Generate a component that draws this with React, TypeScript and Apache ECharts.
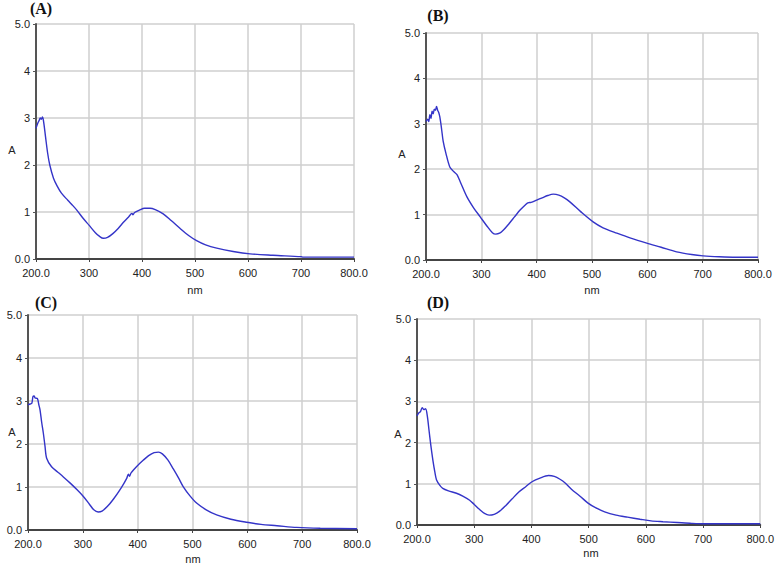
import React, { useEffect, useRef } from "react";
import * as echarts from "echarts";

const xTicks = [200, 300, 400, 500, 600, 700, 800];
const xTickLabels = ["200.0", "300", "400", "500", "600", "700", "800.0"];
const yTicks = [0, 1, 2, 3, 4, 5];
const yTickLabels = ["0.0", "1", "2", "3", "4", "5.0"];
const panelLabels = ["(A)", "(B)", "(C)", "(D)"];
const yAxisTitle = "A";
const xAxisTitle = "nm";

const aNm = [200, 203, 206, 208, 210, 212, 214, 218, 222, 226, 233, 240, 248, 260, 270, 277, 290, 300, 312, 320, 327, 335, 345, 355, 365, 375, 381, 383, 386, 395, 405, 415, 425, 440, 455, 472, 488, 503, 520, 541, 572, 604, 647, 700, 704, 750, 800];
const aAbs = [2.78, 2.88, 2.95, 3.0, 2.97, 3.02, 2.95, 2.6, 2.25, 2.0, 1.72, 1.55, 1.4, 1.25, 1.13, 1.04, 0.85, 0.72, 0.56, 0.48, 0.44, 0.46, 0.54, 0.65, 0.78, 0.9, 0.97, 0.94, 0.99, 1.04, 1.08, 1.08, 1.05, 0.96, 0.82, 0.65, 0.5, 0.39, 0.3, 0.23, 0.16, 0.11, 0.08, 0.05, 0.04, 0.04, 0.04];

const bNm = [200, 203, 205, 207, 209, 211, 213, 215, 217, 219, 221, 223, 225, 228, 231, 236, 243, 250, 256, 262, 274, 286, 298, 310, 320, 326, 333, 340, 350, 360, 370, 380, 384, 390, 400, 410, 420, 430, 440, 450, 460, 480, 502, 520, 545, 570, 599, 625, 653, 680, 701, 730, 760, 800];
const bAbs = [3.05, 3.1, 3.05, 3.2, 3.12, 3.28, 3.22, 3.32, 3.3, 3.38, 3.3, 3.25, 3.15, 2.9, 2.62, 2.35, 2.05, 1.95, 1.88, 1.72, 1.39, 1.15, 0.95, 0.75, 0.6, 0.57, 0.59, 0.66, 0.8, 0.95, 1.1, 1.22, 1.26, 1.27, 1.32, 1.37, 1.42, 1.45, 1.43, 1.37, 1.28, 1.06, 0.84, 0.71, 0.59, 0.48, 0.37, 0.28, 0.18, 0.12, 0.09, 0.07, 0.06, 0.06];

const cNm = [200, 204, 207, 209, 211, 213, 217, 220, 222, 225, 228, 231, 234, 243, 254, 264, 277, 290, 301, 312, 320, 328, 335, 345, 356, 370, 380, 383, 385, 388, 400, 410, 420, 430, 438, 445, 455, 465, 475, 483, 495, 508, 525, 544, 570, 599, 625, 654, 690, 733, 800];
const cAbs = [2.91, 2.93, 2.95, 3.1, 3.12, 3.07, 3.06, 2.9, 2.79, 2.5, 2.25, 1.95, 1.67, 1.47, 1.35, 1.24, 1.09, 0.93, 0.78, 0.6, 0.47, 0.42, 0.44, 0.55, 0.72, 0.98, 1.2, 1.3, 1.25, 1.33, 1.5, 1.62, 1.73, 1.8, 1.81, 1.77, 1.63, 1.42, 1.2, 1.01, 0.8, 0.62, 0.47, 0.35, 0.25, 0.18, 0.13, 0.1, 0.06, 0.04, 0.03];

const dNm = [200, 203, 206, 209, 212, 215, 218, 221, 224, 228, 231, 234, 240, 245, 255, 269, 280, 292, 300, 309, 318, 326, 335, 344, 355, 366, 378, 390, 401, 415, 430, 440, 450, 459, 470, 485, 499, 512, 528, 548, 568, 590, 609, 630, 655, 680, 701, 750, 800];
const dAbs = [2.65, 2.72, 2.75, 2.85, 2.8, 2.82, 2.65, 2.3, 1.95, 1.55, 1.3, 1.1, 0.96, 0.89, 0.83, 0.77, 0.7, 0.6, 0.5, 0.38, 0.28, 0.24, 0.26, 0.33, 0.47, 0.63, 0.8, 0.93, 1.05, 1.14, 1.2, 1.18, 1.11, 1.02, 0.87, 0.7, 0.53, 0.42, 0.32, 0.24, 0.19, 0.14, 0.1, 0.08, 0.06, 0.04, 0.03, 0.03, 0.03];

const panels = [
  { nm: aNm, abs: aAbs, left: 36, top: 24, width: 318, height: 235, lab: [41, 8], yt: [12, 150], nmPos: [195, 290] },
  { nm: bNm, abs: bAbs, left: 426, top: 33, width: 332, height: 227, lab: [438, 15], yt: [402, 154], nmPos: [592, 290] },
  { nm: cNm, abs: cAbs, left: 28, top: 315, width: 329, height: 215, lab: [46, 302], yt: [12, 432], nmPos: [193, 559] },
  { nm: dNm, abs: dAbs, left: 417, top: 319, width: 347, height: 206, lab: [438, 302], yt: [398, 434], nmPos: [591, 553] },
];

export default function App() {
  const ref = useRef<HTMLDivElement>(null);
  useEffect(() => {
    if (!ref.current) return;
    const chart = echarts.init(ref.current, null, { renderer: "svg" });
    const labelFont = "'Liberation Sans', Arial, sans-serif";
    const xLabelMap: Record<number, string> = {};
    xTicks.forEach((t, i) => (xLabelMap[t] = xTickLabels[i]));
    const yLabelMap: Record<number, string> = {};
    yTicks.forEach((t, i) => (yLabelMap[t] = yTickLabels[i]));

    const grid = panels.map((p) => ({ left: p.left, top: p.top, width: p.width, height: p.height, containLabel: false }));
    const xAxis = panels.map((p, i) => ({
      type: "value",
      gridIndex: i,
      min: 200,
      max: 800,
      interval: 100,
      axisLine: { show: true, lineStyle: { color: "#444", width: 2 } },
      axisTick: { show: true, length: 3, lineStyle: { color: "#444" } },
      axisLabel: { color: "#222", fontSize: 11, fontFamily: labelFont, margin: 8, formatter: (v: number) => xLabelMap[v] ?? String(v) },
      splitLine: { show: true, lineStyle: { color: "#cfcfcf", width: 1.5 } },
    }));
    const yAxis = panels.map((p, i) => ({
      type: "value",
      gridIndex: i,
      min: 0,
      max: 5,
      interval: 1,
      axisLine: { show: true, lineStyle: { color: "#555", width: 2 } },
      axisTick: { show: true, length: 3, lineStyle: { color: "#555" } },
      axisLabel: { color: "#222", fontSize: 11, fontFamily: labelFont, margin: 6, formatter: (v: number) => yLabelMap[v] ?? String(v) },
      splitLine: { show: true, lineStyle: { color: "#cfcfcf", width: 1.5 } },
    }));
    const series = panels.map((p, i) => ({
      type: "line",
      xAxisIndex: i,
      yAxisIndex: i,
      data: p.nm.map((x, j) => [x, p.abs[j]]),
      showSymbol: false,
      smooth: 0.3,
      lineStyle: { color: "#3434c8", width: 1.4 },
    }));
    const graphic: any[] = [];
    panels.forEach((p, i) => {
      graphic.push({
        type: "text",
        x: p.lab[0],
        y: p.lab[1],
        style: { text: panelLabels[i], font: "bold 16px 'Liberation Serif', 'Times New Roman', serif", fill: "#111", textAlign: "center", textVerticalAlign: "middle" },
      });
      graphic.push({
        type: "text",
        x: p.yt[0],
        y: p.yt[1],
        style: { text: yAxisTitle, font: "11px " + labelFont, fill: "#222", textAlign: "center", textVerticalAlign: "middle" },
      });
      graphic.push({
        type: "text",
        x: p.nmPos[0],
        y: p.nmPos[1],
        style: { text: xAxisTitle, font: "11px " + labelFont, fill: "#222", textAlign: "center", textVerticalAlign: "middle" },
      });
    });
    chart.setOption({
      animation: false,
      backgroundColor: "#ffffff",
      grid,
      xAxis,
      yAxis,
      series,
      graphic,
    });
    return () => chart.dispose();
  }, []);
  return <div ref={ref} style={{ position: "fixed", left: 0, top: 0, width: 777, height: 564 }} />;
}
